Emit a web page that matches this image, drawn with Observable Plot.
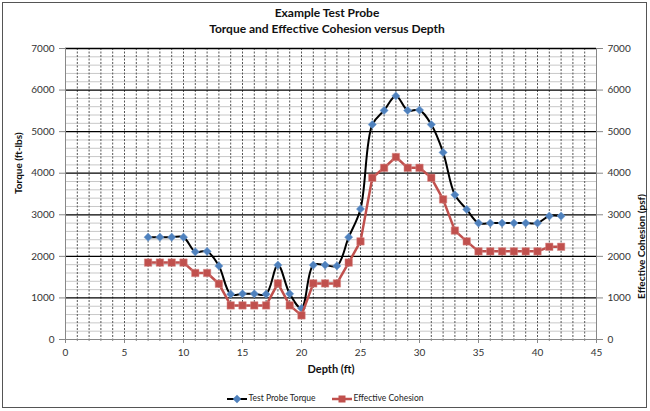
<!DOCTYPE html>
<html><head><meta charset="utf-8">
<script src="https://cdn.jsdelivr.net/npm/d3@7"></script>
<script src="https://cdn.jsdelivr.net/npm/@observablehq/plot@0.6"></script>
<style>
html,body{margin:0;padding:0;background:#fff;width:650px;height:411px;overflow:hidden;font-family:Lato,"Open Sans",sans-serif;}
#frame{position:absolute;left:2px;top:2px;width:645px;height:406px;box-sizing:border-box;border:1.5px solid #555;}
#title{position:absolute;left:0;top:5px;width:654px;text-align:center;font-weight:bold;font-size:12px;line-height:16px;color:#111;}
#chart{position:absolute;left:0;top:38px;}
#legend{position:absolute;left:0;top:391px;width:650px;text-align:center;font-size:8.5px;color:#222;line-height:14px;}
#legend span.item{display:inline-block;margin:0 8px;}
#legend svg{vertical-align:middle;margin-right:2px;}
</style></head><body>
<div id="frame"></div>
<div id="title">Example Test Probe<br>Torque and Effective Cohesion versus Depth</div>
<div id="chart"></div>
<div id="legend"></div>
<script>
const depth = [7,8,9,10,11,12,13,14,15,16,17,18,19,20,21,22,23,24,25,26,27,28,29,30,31,32,33,34,35,36,37,38,39,40,41,42];
const torque = [2460,2460,2460,2460,2110,2120,1770,1090,1100,1100,1090,1790,1100,750,1790,1790,1770,2460,3140,5170,5510,5860,5510,5520,5170,4500,3480,3130,2800,2800,2800,2800,2800,2800,2970,2970];
const cohesion = [1850,1850,1850,1850,1600,1600,1340,820,820,820,820,1350,820,580,1350,1350,1350,1850,2360,3890,4130,4390,4130,4130,3890,3370,2620,2360,2120,2120,2120,2120,2120,2120,2230,2230];
const xTicks = [0,5,10,15,20,25,30,35,40,45];
const yTicks = [0,1000,2000,3000,4000,5000,6000,7000];
const seriesNames = ["Test Probe Torque","Effective Cohesion"];
const colors = {torqueLine:"#000000", torqueMarker:"#4F81BD", cohesion:"#C0504D"};

const torqueData = depth.map((d,i)=>({depth:d, value:torque[i]}));
const cohesionData = depth.map((d,i)=>({depth:d, value:cohesion[i]}));
const xGrid = d3.range(1,45);
const yMinor = d3.range(200,7000,200).filter(v=>v%1000!==0);
const yMajor = yTicks.filter(v=>v>0);

const chart = Plot.plot({
  width:650, height:344,
  marginLeft:65, marginRight:54, marginTop:10, marginBottom:43,
  x:{type:"linear", domain:[0,45]},
  y:{type:"linear", domain:[0,7000]},
  style:{fontFamily:"Lato, 'Open Sans', sans-serif", fontSize:"10px", color:"#333", background:"transparent"},
  marks:[
    Plot.ruleY(yMinor, {stroke:"#c8c8c8", strokeWidth:1}),
    Plot.ruleX(xGrid, {stroke:"#555", strokeWidth:1, strokeDasharray:"2,1.5"}),
    Plot.ruleY(yMajor, {stroke:"#000", strokeWidth:1.3}),
    Plot.ruleX([0,45], {stroke:"#888"}),
    Plot.ruleY([0], {stroke:"#888"}),
    Plot.axisX({ticks:xGrid, tickSize:2, tickFormat:()=>"", label:null, stroke:"#888"}),
    Plot.axisX({ticks:xTicks, tickSize:4, tickPadding:5, tickFormat:d=>String(d), label:null, stroke:"#888"}),
    Plot.axisY({ticks:yTicks, tickSize:6, tickPadding:5, tickFormat:d=>String(d), label:null, stroke:"#888"}),
    Plot.axisY({anchor:"right", ticks:yTicks, tickSize:6, tickPadding:5, tickFormat:d=>String(d), label:null, stroke:"#888"}),
    Plot.text(["Depth (ft)"], {frameAnchor:"bottom", dy:33, fontWeight:"bold", fontSize:11, fill:"#111"}),
    Plot.text(["Torque (ft-lbs)"], {frameAnchor:"left", dx:-47, rotate:-90, fontWeight:"bold", fontSize:10, fill:"#111"}),
    Plot.text(["Effective Cohesion (psf)"], {frameAnchor:"right", dx:45, rotate:-90, fontWeight:"bold", fontSize:10, fill:"#111"}),
    Plot.line(torqueData, {x:"depth", y:"value", stroke:colors.torqueLine, strokeWidth:2, curve:"catmull-rom"}),
    Plot.dot(torqueData, {x:"depth", y:"value", symbol:"square", rotate:45, r:3.3, fill:colors.torqueMarker, stroke:"#7aa3d6", strokeWidth:0.5}),
    Plot.line(cohesionData, {x:"depth", y:"value", stroke:colors.cohesion, strokeWidth:2.5}),
    Plot.dot(cohesionData, {x:"depth", y:"value", symbol:"square", r:4.2, fill:colors.cohesion, stroke:"#d98a88", strokeWidth:0.5})
  ]
});
document.getElementById("chart").appendChild(chart);

const leg = document.getElementById("legend");
leg.innerHTML =
  `<span class="item"><svg width="20" height="10"><line x1="0" y1="5" x2="20" y2="5" stroke="${colors.torqueLine}" stroke-width="2"/><rect x="7" y="2" width="6" height="6" fill="${colors.torqueMarker}" transform="rotate(45 10 5)"/></svg>${seriesNames[0]}</span>` +
  `<span class="item"><svg width="20" height="10"><line x1="0" y1="5" x2="20" y2="5" stroke="${colors.cohesion}" stroke-width="2.5"/><rect x="6.5" y="1.5" width="7" height="7" fill="${colors.cohesion}"/></svg>${seriesNames[1]}</span>`;
</script>
</body></html>
